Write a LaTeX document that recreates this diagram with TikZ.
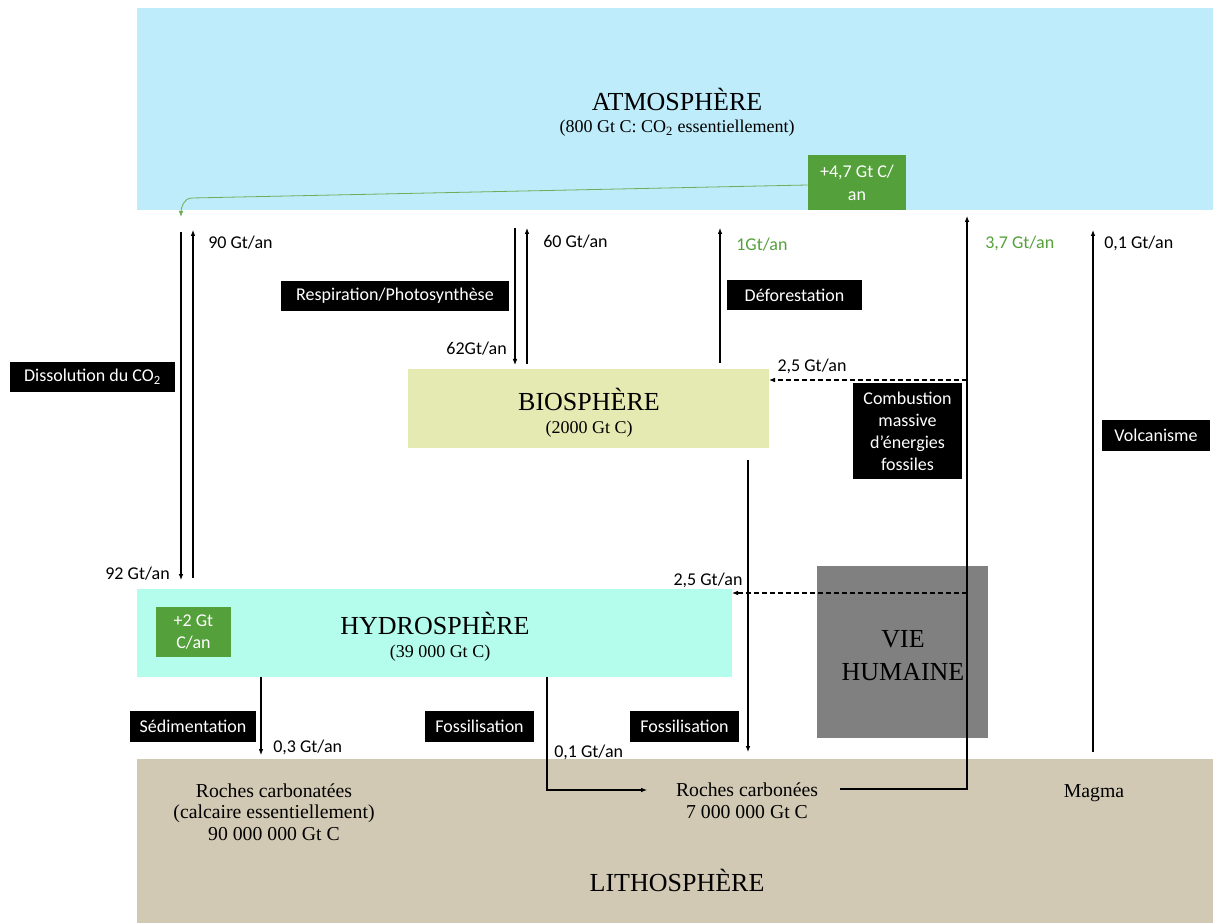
\documentclass[tikz,border=0pt]{standalone}
\usepackage{fontspec}
\setmainfont{Carlito}
\newfontfamily\serifcam{Liberation Serif}
\usetikzlibrary{arrows.meta}

\definecolor{atmocol}{RGB}{190,236,250}
\definecolor{biocol}{RGB}{228,234,178}
\definecolor{hydrocol}{RGB}{180,253,237}
\definecolor{lithocol}{RGB}{209,201,180}
\definecolor{gaincol}{RGB}{84,160,58}
\definecolor{humcol}{RGB}{128,128,128}

\tikzset{
  sphere/.style={inner sep=0pt, outer sep=0pt},
  tag/.style={fill=black, text=white, inner sep=0pt, align=center, font=\fontsize{13.5}{16.5}\selectfont},
  gain/.style={fill=gaincol, text=white, inner sep=0pt, align=center, font=\fontsize{13.5}{17}\selectfont},
  rate/.style={inner sep=0pt, font=\fontsize{13.5}{16}\selectfont},
  bigtitle/.style={inner sep=0pt, font=\serifcam\fontsize{19.5}{22}\selectfont},
  stock/.style={inner sep=0pt, align=center, font=\serifcam\fontsize{13.5}{16.5}\selectfont},
  rock/.style={stock, font=\serifcam\fontsize{14.8}{16.3}\selectfont},
  flux/.style={-{Latex[length=4.5pt,width=3.5pt]}, line width=0.8pt},
  human/.style={flux, dash pattern=on 3.5pt off 2.5pt},
  gainflow/.style={-{Latex[length=4.5pt,width=3.5pt]}, line width=0.6pt, draw=gaincol!85!white},
}

\begin{document}
\begin{tikzpicture}[x=0.75pt,y=-0.75pt]
\useasboundingbox (0,0) rectangle (1213,923);

% reservoirs
\node[sphere, fill=atmocol, minimum width=807pt, minimum height=151.5pt] (atmo) at (675,109) {};
\node[sphere, fill=lithocol, minimum width=807pt, minimum height=123pt] (litho) at (675,841) {};
\node[sphere, fill=biocol, minimum width=270.75pt, minimum height=59.25pt] (bio) at (588.5,408.5) {};
\node[sphere, fill=hydrocol, minimum width=446.25pt, minimum height=66pt] (hydro) at (434.5,633) {};
\node[sphere, fill=humcol, minimum width=128.25pt, minimum height=129pt] (human) at (902.5,652) {};

% titles and stocks
\node[bigtitle, anchor=base] (atmotitle) at (677,111) {ATMOSPHÈRE};
\node[stock, anchor=base] (atmostock) at (677,133) {(800 Gt C: CO\textsubscript{2} essentiellement)};
\node[bigtitle, anchor=base] (biotitle) at (589,410) {BIOSPHÈRE};
\node[stock, anchor=base] (biostock) at (589,433) {(2000 Gt C)};
\node[bigtitle, anchor=base] (hydrotitle) at (435,634) {HYDROSPHÈRE};
\node[stock, anchor=base] (hydrostock) at (440,657) {(39 000 Gt C)};
\node[bigtitle, anchor=base] (humtitle1) at (903,647) {VIE};
\node[bigtitle, anchor=base] (humtitle2) at (903,680) {HUMAINE};
\node[bigtitle, anchor=base] (lithotitle) at (677,891) {LITHOSPHÈRE};
\node[rock] (carbonate) at (274,812) {Roches carbonatées\\(calcaire essentiellement)\\90 000 000 Gt C};
\node[rock] (carbon) at (747,801) {Roches carbonées\\7 000 000 Gt C};
\node[rock, anchor=base] (magma) at (1094,797) {Magma};

% gains
\node[gain, minimum width=73.5pt, minimum height=41.25pt] (atmogain) at (857,182.5) {+4,7 Gt C/\\an};
\node[gain, minimum width=56.25pt, minimum height=37.5pt] (hydrogain) at (193.5,632) {+2 Gt\\C/an};

% free ends
\coordinate (dissdown0) at (181,232);
\coordinate (dissdown1) at (181,580);
\coordinate (dissup0) at (193,578);
\coordinate (dissup1) at (193,230);
\coordinate (respdown0) at (515,228);
\coordinate (respdown1) at (515,365);
\coordinate (respup0) at (527,364);
\coordinate (respup1) at (527,228);
\coordinate (defo0) at (720,363);
\coordinate (defo1) at (720,228);
\coordinate (volc0) at (1093,752);
\coordinate (volc1) at (1093,230);
\coordinate (bury0) at (748,460);
\coordinate (bury1) at (748,752);
\coordinate (sed1) at (261,755);
\coordinate (fossbend) at (547,790);
\coordinate (fossend) at (647,790);
\coordinate (burn0) at (840,789);
\coordinate (burnbend) at (967,789);
\coordinate (burn1) at (967,216);
\coordinate (burnbio) at (967,380);
\coordinate (burnhydro) at (967,593);
\coordinate (gainbend) at (192,198);
\coordinate (gaintip) at (181,217);

% fluxes
\path[flux]
  (dissdown0) edge (dissdown1)
  (dissup0) edge (dissup1)
  (respdown0) edge (respdown1)
  (respup0) edge (respup1)
  (defo0) edge (defo1)
  (volc0) edge (volc1)
  (bury0) edge (bury1)
  (hydro.south -| sed1) edge (sed1);
\draw[flux] (hydro.south -| fossbend) -- (fossbend) -- (fossend);
\draw[flux] (burn0) -- (burnbend) -- (burn1);
\draw[human] (burnbio) -- (bio.east |- burnbio);
\draw[human] (burnhydro) -- (hydro.east |- burnhydro);
\draw[gainflow] (atmogain.west |- 0,185) -- (gainbend) to[out=180,in=90] (gaintip);

% rates
\node[rate, anchor=base west] (r90) at (208,249) {90 Gt/an};
\node[rate, anchor=base east] (r92) at (170,579) {92 Gt/an};
\node[rate, anchor=base west] (r60) at (543,248) {60 Gt/an};
\node[rate, anchor=base east] (r62) at (507,354) {62Gt/an};
\node[rate, anchor=base west, text=gaincol] (r1) at (736,251) {1Gt/an};
\node[rate, anchor=base] (r25bio) at (812,372) {2,5 Gt/an};
\node[rate, anchor=base west, text=gaincol] (r37) at (985,249) {3,7 Gt/an};
\node[rate, anchor=base west] (r01volc) at (1104,249) {0,1 Gt/an};
\node[rate, anchor=base] (r25hydro) at (708,585) {2,5 Gt/an};
\node[rate, anchor=base west] (r03) at (273,752) {0,3 Gt/an};
\node[rate, anchor=base west] (r01foss) at (554,757) {0,1 Gt/an};

% processes
\node[tag, minimum width=123.75pt, minimum height=22.5pt] (dissolution) at (92.5,377) {Dissolution du CO\textsubscript{2}};
\node[tag, minimum width=171pt, minimum height=22.5pt] (respiration) at (395,296) {Respiration/Photosynthèse};
\node[tag, minimum width=101.25pt, minimum height=22.5pt] (deforestation) at (794.5,295) {Déforestation};
\node[tag, minimum width=81.75pt, minimum height=72pt] (combustion) at (907.5,431) {Combustion\\massive\\d’énergies\\fossiles};
\node[tag, minimum width=81pt, minimum height=23.25pt] (volcanism) at (1156,435.5) {Volcanisme};
\node[tag, minimum width=94.5pt, minimum height=23.25pt] (sedimentation) at (193,726.5) {Sédimentation};
\node[tag, minimum width=81.75pt, minimum height=23.25pt] (fossil1) at (479.5,726.5) {Fossilisation};
\node[tag, minimum width=81.75pt, minimum height=23.25pt] (fossil2) at (684.5,726.5) {Fossilisation};
\end{tikzpicture}
\end{document}
